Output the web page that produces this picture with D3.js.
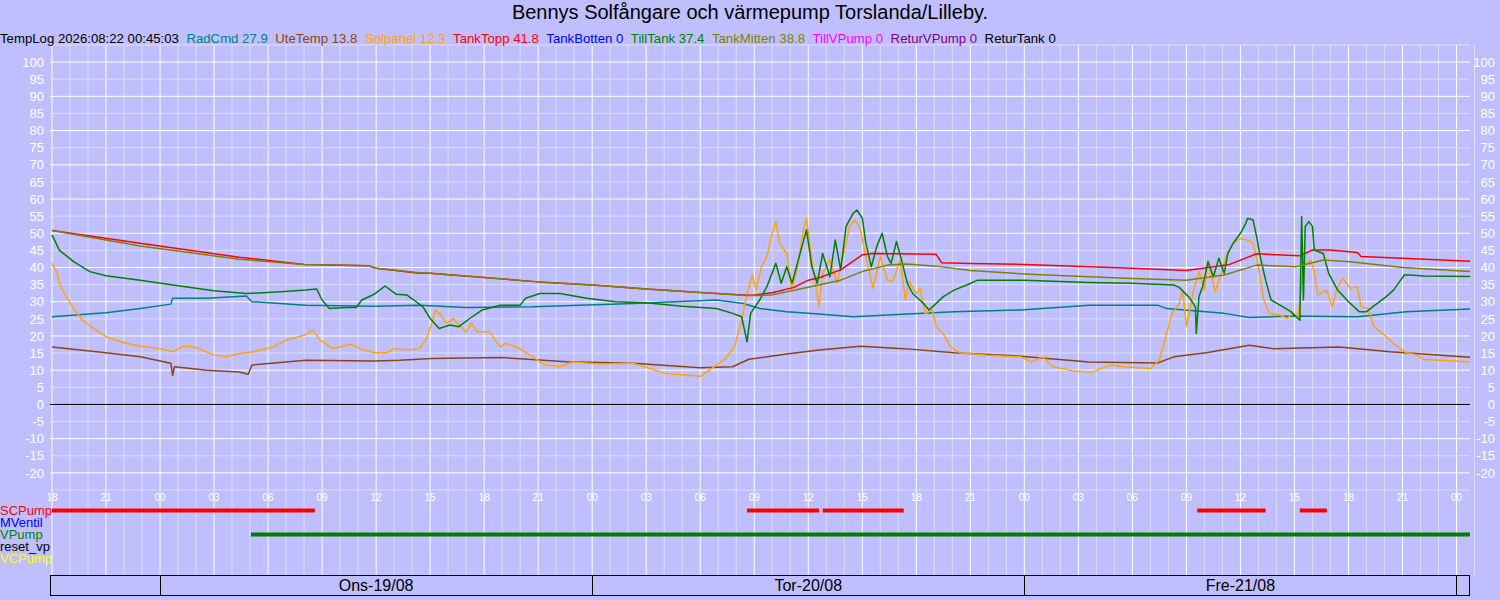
<!DOCTYPE html>
<html>
<head>
<meta charset="utf-8">
<script src="https://cdn.jsdelivr.net/npm/d3@7"></script>
<style>
body { margin:0; background:#BFBFFF; }
text { font-family:"Liberation Sans", Arial, sans-serif; }
</style>
</head>
<body>
<div id="chart"></div>
<script>
// hours since 2026-08-18 18:00, value in °C
var radCmd = [[0,25.6],[3,26.8],[4.9,28.0],[6.6,29.3],[6.7,31],[8.6,31],[10.8,31.7],[11.1,30],[14.1,29],[17.9,28.7],[20.4,29],[23,28.3],[26.7,28.5],[32.3,29.5],[36.9,30.5],[38.4,29.5],[39.3,28],[40.8,27.1],[42.6,26.4],[44.5,25.6],[46.4,26.1],[50.1,27.1],[53.8,27.6],[57.6,29],[61.4,29],[61.9,28],[65.1,26.6],[66.5,25.4],[68.8,25.8],[72.5,25.6],[75.2,27.1],[78.75,27.9]];

var uteTemp = [[0,16.8],[3,15.1],[4.9,13.9],[6.6,12],[6.7,8.5],[6.8,11],[8.6,10],[10.4,9.5],[10.9,8.8],[11.1,11.5],[14.1,12.9],[17.9,12.7],[19.3,12.9],[21.1,13.4],[24.9,13.7],[28.6,12.5],[32.3,12],[36,10.7],[37.8,11],[38.7,13.2],[40.8,14.7],[42.6,15.9],[44.9,17],[47.3,16.3],[50.1,15.1],[53.8,14.1],[57.6,12.4],[61.4,12.1],[62.3,13.9],[64.1,15.1],[66.5,17.3],[67.8,16.3],[71.5,16.8],[74.3,15.4],[78.75,13.8]];

var solpanel = [[0,41.2],[0.3,38.3],[0.4,35.4],[0.8,31.5],[1.2,28],[1.7,24.6],[2.3,22.2],[3,19.8],[4,18],[4.9,17],[6,16.3],[6.7,15.4],[7.3,17],[7.9,16.8],[9,14.4],[9.7,13.9],[10.4,14.9],[11.2,15.4],[12.3,16.8],[13,18.8],[14,20.2],[14.5,21.7],[14.9,18.8],[15.6,16.3],[16.6,17.6],[17.1,16.3],[17.9,15.1],[18.6,15.1],[19,16.3],[19.7,15.9],[20.4,16.3],[20.8,19.3],[21.1,23.7],[21.3,27.6],[21.6,26.1],[21.9,23.7],[22.3,25.1],[22.5,23.7],[23,21.2],[23.3,23.7],[23.6,21.2],[24.3,21.2],[24.9,16.8],[25.2,17.8],[25.8,16.8],[26.7,13.9],[27.4,11.5],[28.2,11],[28.9,12.4],[30.4,11.8],[32.3,12],[33.2,10.5],[34.1,9],[36,8.2],[36.5,10],[37.4,13.4],[37.9,16.8],[38.3,24.6],[38.6,32.4],[38.9,37.8],[39.1,33.4],[39.4,40.2],[39.7,43.2],[40,50],[40.2,53.4],[40.4,47.1],[40.8,44.1],[41.1,33.4],[41.4,40.2],[41.7,50],[41.9,54.4],[42.2,42.2],[42.6,28.5],[42.8,38.3],[43.2,42.2],[43.6,35.4],[44,45.1],[44.3,52],[44.6,53.9],[44.9,51],[45.2,43.2],[45.6,33.9],[46,43.2],[46.4,36.3],[46.7,35.9],[47.1,42.2],[47.4,30.5],[47.6,35.9],[48,32.4],[48.2,33.9],[48.5,26.6],[48.9,27.6],[49.1,22.7],[49.5,20.7],[49.9,16.8],[50.4,15.1],[51.9,14.4],[53.8,13.9],[54.4,12.4],[55,13.9],[55.6,11],[56.7,9.8],[57.8,9.5],[58.8,11.5],[59.5,11],[61,10.5],[61.5,12.9],[61.9,20.7],[62.2,26.6],[62.6,29.5],[62.8,33.4],[63,22.7],[63.4,33.4],[63.7,38.8],[64,33.4],[64.2,42.2],[64.6,32.9],[65,39.3],[65.2,43.2],[65.6,47.1],[66,48.5],[66.4,48],[66.7,47.1],[67,40.2],[67.3,30.5],[67.6,26.6],[68.2,26.1],[68.6,25.1],[68.9,26.6],[69.2,25.6],[69.5,40.2],[69.9,42.2],[70.1,38.8],[70.3,32],[70.8,33.4],[71.1,28.5],[71.4,34.4],[71.7,36.8],[72.1,33.9],[72.5,34.4],[72.7,28.5],[73.1,28],[73.4,22.7],[73.9,20.7],[74.5,17.8],[75.1,15.4],[75.8,14.4],[76.2,13.1],[78,12.7],[78.75,12.3]];

var tankTopp = [[0,50.8],[4.9,47.1],[10.4,43],[14,40.9],[17.6,40.5],[18,39.8],[20.4,38.3],[21,38.3],[24,37.1],[27,35.8],[30,34.9],[33,33.7],[36,32.7],[38.6,31.9],[39,32],[40,32.6],[41.2,34.2],[42,36.3],[42.6,37],[43.8,39.3],[45,43.7],[45.6,44.1],[49.1,43.9],[49.4,41.4],[51,41.2],[54,40.9],[57.6,40.2],[60,39.8],[63,39.1],[65.4,40.9],[66.9,44],[68,43.7],[69.3,43.4],[70,45.1],[71,45.1],[72.5,44.4],[72.7,43.2],[75,42.7],[78.75,41.8]];

var tillTank = [[0,49.5],[0.1,48.5],[0.4,45.1],[1.2,41.7],[2.1,38.8],[3,37.6],[4.9,36.3],[7.1,34.6],[9,33.2],[10.8,32.4],[12.7,32.9],[14.1,33.4],[14.7,33.7],[15,30.5],[15.4,28],[16.4,28.3],[16.9,28.3],[17.2,30.5],[17.9,32.2],[18.5,34.6],[19.1,32.2],[19.7,32],[20.1,30.5],[20.6,28.5],[21,25.1],[21.5,22.2],[22.1,23.2],[22.6,22.7],[23.2,25.1],[23.9,27.6],[24.9,29],[26,29],[26.3,31],[27.1,32.4],[28.2,32.4],[29.7,31],[31.3,30],[33,29.7],[35,28.7],[36.9,28],[37.8,26.6],[38.3,25.6],[38.6,18.3],[38.8,26.6],[39.3,30.5],[39.7,34.4],[40.2,41.2],[40.5,35.4],[40.8,40.2],[41.1,35.4],[41.5,43.2],[41.9,51],[42.2,40.2],[42.5,35.4],[42.8,44.1],[43.2,37.3],[43.5,48],[43.8,39.3],[44.1,52],[44.5,55.9],[44.7,56.8],[45,54.4],[45.2,47.1],[45.5,40.2],[45.8,46.1],[46.1,50],[46.4,43.2],[46.6,41.2],[46.9,47.6],[47.2,41.7],[47.5,35.4],[47.8,32.4],[48.4,29.5],[48.7,27.6],[48.9,28.5],[49.5,31.5],[50.1,33.4],[50.8,34.9],[51.4,36.3],[54,36.3],[57.6,35.6],[60,35.4],[62.3,34.9],[62.6,34.2],[63.2,31],[63.5,28.5],[63.55,20.7],[63.7,31.5],[63.9,34.4],[64.2,41.7],[64.5,37.3],[64.8,42.7],[65.1,38.3],[65.3,44.1],[65.6,47.1],[66,50],[66.3,52.9],[66.4,54.4],[66.7,53.9],[66.9,49],[67.1,43.2],[67.4,36.3],[67.7,30.5],[68.2,29],[68.8,27.1],[69.3,24.6],[69.4,54.9],[69.5,30.5],[69.6,52],[69.8,53.4],[70,52],[70.1,45.1],[70.6,44.1],[70.9,38.3],[71.4,33.4],[72,30],[72.6,27.1],[73,27.1],[73.6,29.5],[74.1,31.5],[74.5,33.4],[74.9,36.3],[75.1,37.8],[75.4,37.8],[76.2,37.5],[78.75,37.4]];

var tankMitten = [[0,50.8],[4.9,46.3],[10.4,42.4],[14,40.9],[17.6,40.5],[18,39.8],[20.4,38.5],[21,38.3],[24,37.1],[27,35.8],[30,34.9],[33,33.7],[36,32.7],[38.6,31.8],[39,31.8],[40,32],[42,34.2],[43.8,36.3],[45.1,39],[46.4,40.7],[47.5,41],[49.1,40.4],[51,39.1],[54,38.1],[57.6,37.3],[60,36.8],[63,36.3],[65.1,37.8],[66.9,40.7],[69.1,40.2],[70.6,42.2],[72.1,41.7],[75,40],[78.75,38.8]];

var legendNames = ["RadCmd","UteTemp","Solpanel","TankTopp","TankBotten","TillTank","TankMitten","TillVPump","ReturVPump","ReturTank"];
var legendValues = [27.9,13.8,12.3,41.8,0,37.4,38.8,0,0,0];
var legendColors = ["#008080","#8B4513","#FFA500","#FF0000","#0000FF","#008000","#808000","#FF00FF","#800080","#000000"];

var pumpNames = ["SCPump","MVentil","VPump","reset_vp","VCPump"];
var pumpColors = ["#FF0000","#0000FF","#008000","#000000","#FFFF00"];
// on-intervals, hours since start
var pumpOn = [
    [[0,14.6],[38.6,42.6],[42.8,47.3],[63.6,67.4],[69.3,70.8]],
    [],
    [[11.05,78.75]],
    [],
    []
];

var dayLabels = ["Ons-19/08","Tor-20/08","Fre-21/08"];
var yTicks = d3.range(-20,101,5);

var start = new Date(2026,7,18,18,0);
var end = new Date(2026,7,22,0,45);
function t(h) { return new Date(start.getTime() + h*3600000); }

var svg = d3.select("#chart")
    .append("svg")
    .attr("width",1500)
    .attr("height",600);

var x = d3.scaleTime().domain([start,end]).range([52,1470]);
var y = d3.scaleLinear().domain([-25,105]).range([490,45]);

// grid
var hours = d3.timeHour.range(start, d3.timeHour.offset(end,1));
var gridV = svg.append("g");
gridV.selectAll("line.minor")
    .data(hours.filter(function(d){ return d.getHours()%3 != 0; }))
    .join("line")
    .attr("x1",function(d){ return x(d); }).attr("x2",function(d){ return x(d); })
    .attr("y1",45).attr("y2",575)
    .attr("stroke","#DCDCFF");
var gridH = svg.append("g");
gridH.selectAll("line")
    .data(d3.range(-25,106,5).filter(function(v){ return v%10 != 0; }))
    .join("line")
    .attr("x1",50).attr("x2",1470)
    .attr("y1",function(d){ return y(d); }).attr("y2",function(d){ return y(d); })
    .attr("stroke","#DCDCFF");
gridV.selectAll("line.major")
    .data(hours.filter(function(d){ return d.getHours()%3 == 0; }))
    .join("line")
    .attr("class","major")
    .attr("x1",function(d){ return x(d); }).attr("x2",function(d){ return x(d); })
    .attr("y1",45).attr("y2",575)
    .attr("stroke","#FFFFFF");
svg.append("g").selectAll("line")
    .data(d3.range(-20,101,10))
    .join("line")
    .attr("x1",50).attr("x2",1470)
    .attr("y1",function(d){ return y(d); }).attr("y2",function(d){ return y(d); })
    .attr("stroke",function(d){ return d == 0 ? "#000000" : "#FFFFFF"; });

// y labels both sides
[44,1495].forEach(function(px){
    svg.append("g").selectAll("text")
        .data(yTicks)
        .join("text")
        .attr("x",px)
        .attr("y",function(d){ return y(d); })
        .attr("dy","0.36em")
        .attr("text-anchor","end")
        .attr("font-size",13)
        .attr("fill","#FFFFFF")
        .text(function(d){ return d; });
});

// time labels
svg.append("g").selectAll("text")
    .data(x.ticks(d3.timeHour.every(3)))
    .join("text")
    .attr("x",function(d){ return x(d); })
    .attr("y",501)
    .attr("text-anchor","middle")
    .attr("font-size",10)
    .attr("fill","#FFFFFF")
    .text(d3.timeFormat("%H"));

// series
var series = [radCmd, uteTemp, solpanel, tankTopp, null, tillTank, tankMitten];
var line = d3.line()
    .x(function(d){ return x(t(d[0])); })
    .y(function(d){ return y(d[1]); });
series.forEach(function(s,i){
    if (!s) return;
    svg.append("path")
        .datum(s)
        .attr("fill","none")
        .attr("stroke",legendColors[i])
        .attr("stroke-width",1.5)
        .attr("stroke-linejoin","round")
        .attr("d",line);
});

// title + legend
svg.append("text")
    .attr("x",750).attr("y",19)
    .attr("text-anchor","middle")
    .attr("font-size",20)
    .attr("fill","#000000")
    .text("Bennys Solfångare och värmepump Torslanda/Lilleby.");

var leg = svg.append("text")
    .attr("x",0).attr("y",43)
    .attr("font-size",13.2);
leg.append("tspan").attr("fill","#000000").text("TempLog 2026:08:22 00:45:03");
legendNames.forEach(function(n,i){
    leg.append("tspan")
        .attr("dx",7.5)
        .attr("fill",legendColors[i])
        .text(n + " " + legendValues[i]);
});

// pump rows
pumpNames.forEach(function(n,i){
    var by = 515 + i*12;
    svg.append("text")
        .attr("x",0).attr("y",by)
        .attr("font-size",13)
        .attr("fill",pumpColors[i])
        .text(n);
    svg.append("g").selectAll("line")
        .data(pumpOn[i])
        .join("line")
        .attr("x1",function(d){ return x(t(d[0])); })
        .attr("x2",function(d){ return x(t(d[1])); })
        .attr("y1",by-4.5).attr("y2",by-4.5)
        .attr("stroke",pumpColors[i])
        .attr("stroke-width",4);
});

// day box
svg.append("rect")
    .attr("x",50.5).attr("y",575.5)
    .attr("width",1419).attr("height",20)
    .attr("fill","none")
    .attr("stroke","#000000");
var days = d3.timeDay.range(start,end);
svg.append("g").selectAll("line")
    .data(days)
    .join("line")
    .attr("x1",function(d){ return Math.round(x(d))+0.5; })
    .attr("x2",function(d){ return Math.round(x(d))+0.5; })
    .attr("y1",575).attr("y2",596)
    .attr("stroke","#000000");
svg.append("g").selectAll("text")
    .data(dayLabels)
    .join("text")
    .attr("x",function(d,i){ return (x(days[i]) + x(days[i+1]))/2; })
    .attr("y",591)
    .attr("text-anchor","middle")
    .attr("font-size",16)
    .attr("fill","#000000")
    .text(function(d){ return d; });
</script>
</body>
</html>
